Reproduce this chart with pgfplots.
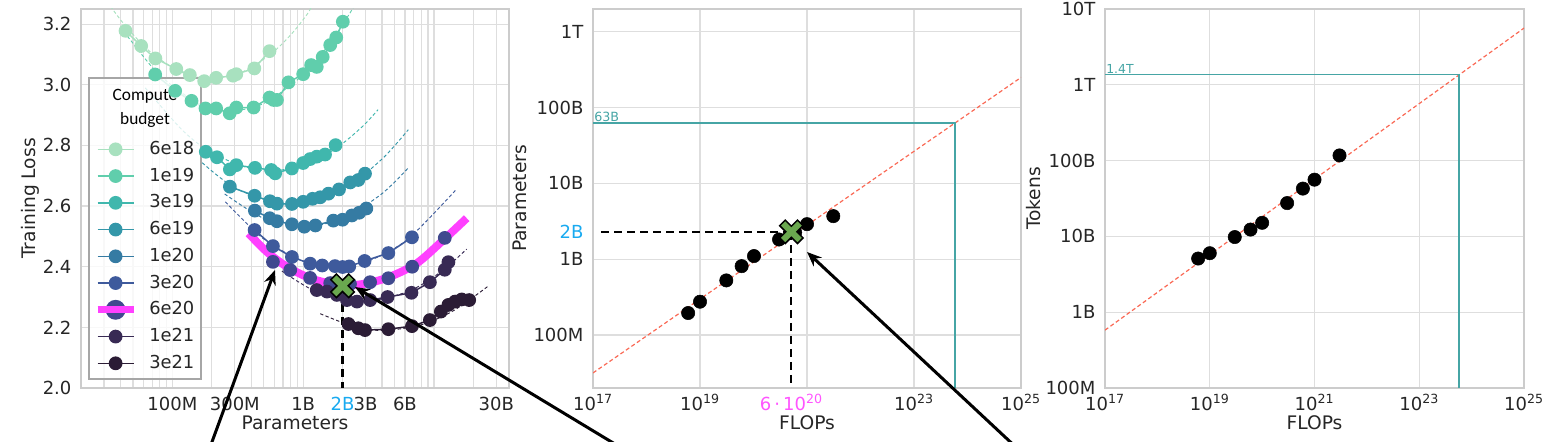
\documentclass[border=0pt]{standalone}
\usepackage{fontspec}
\setmainfont{DejaVu Sans}
\newfontfamily\carlito{Carlito}
\usepackage{pgfplots}
\pgfplotsset{compat=1.18}
\usetikzlibrary{arrows.meta}

\definecolor{cA}{RGB}{168,225,191}
\definecolor{cB}{RGB}{96,206,172}
\definecolor{cC}{RGB}{64,183,173}
\definecolor{cD}{RGB}{52,151,169}
\definecolor{cE}{RGB}{53,123,163}
\definecolor{cF}{RGB}{62,90,156}
\definecolor{cG}{RGB}{64,73,142}
\definecolor{cH}{RGB}{56,42,84}
\definecolor{cI}{RGB}{43,28,53}
\definecolor{mag}{RGB}{255,64,255}
\definecolor{maglab}{RGB}{255,85,255}
\definecolor{cyanlab}{RGB}{25,170,240}
\definecolor{gridc}{RGB}{222,222,222}
\definecolor{spine}{RGB}{204,204,204}
\definecolor{fitred}{RGB}{250,105,85}
\definecolor{tealc}{RGB}{70,165,165}
\definecolor{xgreen}{RGB}{106,168,79}
\definecolor{txt}{RGB}{38,38,38}

\pgfdeclareplotmark{bigX}{%
  \pgfpathmoveto{\pgfqpoint{0pt}{4.2pt}}%
  \pgfpathlineto{\pgfqpoint{4.6pt}{8.8pt}}%
  \pgfpathlineto{\pgfqpoint{8.8pt}{4.6pt}}%
  \pgfpathlineto{\pgfqpoint{4.2pt}{0pt}}%
  \pgfpathlineto{\pgfqpoint{8.8pt}{-4.6pt}}%
  \pgfpathlineto{\pgfqpoint{4.6pt}{-8.8pt}}%
  \pgfpathlineto{\pgfqpoint{0pt}{-4.2pt}}%
  \pgfpathlineto{\pgfqpoint{-4.6pt}{-8.8pt}}%
  \pgfpathlineto{\pgfqpoint{-8.8pt}{-4.6pt}}%
  \pgfpathlineto{\pgfqpoint{-4.2pt}{0pt}}%
  \pgfpathlineto{\pgfqpoint{-8.8pt}{4.6pt}}%
  \pgfpathlineto{\pgfqpoint{-4.6pt}{8.8pt}}%
  \pgfpathclose
  \pgfusepathqfillstroke
}

\pgfplotsset{
  panel/.style={
    scale only axis, height=284.25pt, anchor=south west,
    axis line style={spine, line width=1.2pt},
    major tick length=0pt, minor tick length=0pt,
    grid style={gridc, line width=0.9pt},
    minor grid style={gridc, line width=0.9pt},
    tick label style={font=\fontsize{13.5}{16}\selectfont, text=txt},
    xticklabel style={anchor=base, inner sep=0pt, yshift=-17pt},
    yticklabel style={anchor=east, inner sep=0pt, xshift=-7pt},
    every axis x label/.style={at={(axis description cs:0.5,-0.1108)}, anchor=base, font=\fontsize{14}{16}\selectfont, text=txt},
  },
  ylab/.style={every axis y label/.style={at={(axis description cs:#1,0.5)}, rotate=90, anchor=base, font=\fontsize{14}{16}\selectfont, text=txt}},
  fitline/.style={forget plot, smooth, line width=0.7pt, dash pattern=on 2.5pt off 1.8pt},
  datal/.style={mark=*, mark size=4.6pt, line width=1.1pt},
}

\begin{document}
\begin{tikzpicture}
\path[use as bounding box] (0pt,0pt) rectangle (1172.25pt,331.5pt);

%================ LEFT PANEL =================
\begin{axis}[panel, at={(60.75pt,40.5pt)}, width=321pt,
  xmode=log, xmin=2e7, xmax=3.75e10, ymin=2, ymax=3.25,
  xtick={1e8,3e8,1e9,3e9,6e9,3e10},
  xticklabels={100M,300M,1B,3B,6B,30B},
  extra x ticks={2e9}, extra x tick labels={\textcolor{cyanlab}{2B}},
  extra x tick style={grid=none},
  minor xtick={2e7,3e7,4e7,5e7,6e7,7e7,8e7,9e7,1e8,2e8,3e8,4e8,5e8,6e8,7e8,8e8,9e8,1e9,2e9,3e9,4e9,5e9,6e9,7e9,8e9,9e9,1e10,2e10,3e10},
  xmajorgrids, xminorgrids, ymajorgrids,
  ytick={2.0,2.2,2.4,2.6,2.8,3.0,3.2},
  yticklabels={2.0,2.2,2.4,2.6,2.8,3.0,3.2},
  xlabel={Parameters}, ylabel={Training Loss}, ylab=-0.1075,
  legend style={at={(axis description cs:0.031,0.657)}, anchor=north west, draw=none, fill=none,
    inner sep=0pt, outer sep=0pt, row sep=4.56pt, column sep=7.25pt, font=\fontsize{13.4}{15}\selectfont, text=txt,
    nodes={inner sep=2pt, text height=9.5pt, text depth=2pt, font=\fontsize{13.4}{15}\selectfont, text=txt}},
  legend cell align=left,
  legend image code/.code={\draw[#1, mark repeat=2, mark phase=2] plot coordinates {(0pt,0pt) (13.5pt,0pt) (27pt,0pt)};},
]
% fitted curves
\addplot[fitline, cA] coordinates {(3.36e7,3.259) (4.38e7,3.194) (6.8e7,3.108) (1.15e8,3.043) (1.95e8,3.020) (3.3e8,3.039) (5.6e8,3.100) (8e8,3.164) (1.07e9,3.232) (1.2e9,3.27)};
\addplot[fitline, cB] coordinates {(4.0e7,3.19) (4.61e7,3.156) (7.94e7,3.033) (1.58e8,2.939) (2.82e8,2.915) (5.01e8,2.939) (1.0e9,3.033) (1.58e9,3.134) (2.29e9,3.238) (2.5e9,3.27)};
\addplot[fitline, cC] coordinates {(6.2e7,2.99) (1.15e8,2.857) (1.79e8,2.789) (3.2e8,2.736) (5.6e8,2.715) (1.0e9,2.737) (1.75e9,2.788) (2.8e9,2.860) (3.74e9,2.918)};
\addplot[fitline, cD] coordinates {(1.69e8,2.743) (3.16e8,2.655) (7.94e8,2.607) (2.0e9,2.655) (3.98e9,2.754) (6.37e9,2.852)};
\addplot[fitline, cE] coordinates {(2.51e8,2.640) (5.01e8,2.559) (1.0e9,2.532) (2.0e9,2.559) (3.98e9,2.640) (6.37e9,2.726)};
\addplot[fitline, cF] coordinates {(2.54e8,2.614) (5.01e8,2.491) (1.0e9,2.419) (1.78e9,2.400) (3.16e9,2.419) (6.31e9,2.491) (1.49e10,2.656)};
\addplot[fitline, cH] coordinates {(6.87e8,2.386) (1.26e9,2.318) (2.82e9,2.285) (6.31e9,2.318) (1.12e10,2.382) (1.78e10,2.458)};
\addplot[fitline, cI] coordinates {(1.35e9,2.245) (2.51e9,2.201) (4.17e9,2.190) (7.94e9,2.208) (1.41e10,2.255) (2.6e10,2.336)};
% data
\addplot[datal, cA] coordinates {(4.38e7,3.178) (5.77e7,3.128) (7.41e7,3.087) (1.07e8,3.052) (1.36e8,3.032) (1.75e8,3.012) (2.16e8,3.023) (2.91e8,3.030) (3.08e8,3.035) (4.23e8,3.054) (5.53e8,3.111)};
\addlegendentry{6e18}
\addplot[datal, cB] coordinates {(7.38e7,3.034) (1.05e8,2.980) (1.40e8,2.947) (1.79e8,2.922) (2.16e8,2.922) (2.74e8,2.906) (3.08e8,2.925) (4.18e8,2.925) (5.53e8,2.958) (5.93e8,2.950) (6.30e8,2.950) (7.72e8,3.008) (1.00e9,3.035) (1.15e9,3.065) (1.27e9,3.059) (1.41e9,3.092) (1.61e9,3.131) (1.79e9,3.156) (2.01e9,3.208)};
\addlegendentry{1e19}
\addplot[datal, cC] coordinates {(1.80e8,2.779) (2.19e8,2.761) (2.75e8,2.721) (3.08e8,2.735) (4.28e8,2.726) (5.70e8,2.719) (6.11e8,2.708) (8.20e8,2.724) (1.00e9,2.742) (1.13e9,2.755) (1.27e9,2.763) (1.47e9,2.770) (1.77e9,2.801)};
\addlegendentry{3e19}
\addplot[datal, cD] coordinates {(2.75e8,2.664) (4.25e8,2.634) (5.57e8,2.616) (6.30e8,2.608) (8.20e8,2.607) (1.00e9,2.614) (1.18e9,2.624) (1.35e9,2.629) (1.56e9,2.641) (1.88e9,2.655) (2.29e9,2.678) (2.64e9,2.686) (2.97e9,2.707)};
\addlegendentry{6e19}
\addplot[datal, cE] coordinates {(4.27e8,2.585) (5.55e8,2.560) (6.30e8,2.550) (8.20e8,2.540) (1.02e9,2.532) (1.24e9,2.536) (1.70e9,2.552) (2.00e9,2.555) (2.36e9,2.569) (2.68e9,2.578) (3.04e9,2.592)};
\addlegendentry{1e20}
\addplot[datal, cF] coordinates {(4.25e8,2.521) (5.87e8,2.468) (8.20e8,2.432) (1.13e9,2.410) (1.40e9,2.404) (1.75e9,2.402) (2.00e9,2.399) (2.25e9,2.401) (2.95e9,2.419) (4.48e9,2.445) (6.79e9,2.497)};
\addlegendentry{3e20}
\addplot[datal, cG, forget plot] coordinates {(5.87e8,2.416) (7.96e8,2.389) (1.13e9,2.363) (1.61e9,2.346) (2.28e9,2.343) (3.25e9,2.349) (4.48e9,2.362) (6.82e9,2.400) (1.21e10,2.495)};
\addplot[mag, line width=6pt, smooth,
  legend image code/.code={\fill[cG] (13.5pt,0pt) circle (4.4pt); \draw[mag, line width=5pt] (0pt,0pt) -- (27pt,0pt);}]
  coordinates {(3.82e8,2.510) (5.28e8,2.449) (7.51e8,2.400) (1.13e9,2.362) (1.70e9,2.342) (2.03e9,2.337) (3.06e9,2.345) (4.61e9,2.367) (7.38e9,2.411) (1.18e10,2.488) (1.78e10,2.560)};
\addlegendentry{6e20}
\addplot[datal, cH] coordinates {(1.27e9,2.323) (1.52e9,2.318) (1.81e9,2.307) (2.16e9,2.290) (2.58e9,2.285) (3.25e9,2.290) (4.42e9,2.300) (6.73e9,2.314) (9.31e9,2.349) (1.21e10,2.390) (1.29e10,2.415)};
\addlegendentry{1e21}
\addplot[datal, cI] coordinates {(2.22e9,2.211) (2.64e9,2.197) (2.97e9,2.191) (4.48e9,2.194) (6.79e9,2.204) (9.31e9,2.224) (1.13e10,2.252) (1.29e10,2.274) (1.45e10,2.285) (1.63e10,2.292) (1.86e10,2.290)};
\addlegendentry{3e21}
% optimum
\addplot[forget plot, black, line width=1.6pt, dash pattern=on 6pt off 3.75pt] coordinates {(2e9,2.32) (2e9,2.0)};
\addplot[forget plot, only marks, mark=bigX, mark options={fill=xgreen, draw=black, line width=1.1pt}] coordinates {(2e9,2.337)};
% legend box
\fill[white, fill opacity=0.8] (axis description cs:0.0187,0.0237) rectangle (axis description cs:0.2804,0.818);
\draw[gray!70, line width=1.2pt] (axis description cs:0.0187,0.0237) rectangle (axis description cs:0.2804,0.818);
\node[font=\carlito\fontsize{13}{15}\selectfont, text=black] at (axis description cs:0.1495,0.771) {Compute};
\node[font=\carlito\fontsize{13}{15}\selectfont, text=black] at (axis description cs:0.1495,0.707) {budget};
\end{axis}

%================ MIDDLE PANEL =================
\begin{axis}[panel, at={(444.75pt,40.5pt)}, width=321pt,
  xmode=log, ymode=log, xmin=1e17, xmax=1e25, ymin=2e7, ymax=2e12,
  xtick={1e17,1e19,1e21,1e23,1e25},
  xticklabels={10\textsuperscript{17},10\textsuperscript{19},{},10\textsuperscript{23},10\textsuperscript{25}},
  extra x ticks={5.1e20}, extra x tick labels={\textcolor{maglab}{6\,·\,10\textsuperscript{20}}},
  extra x tick style={grid=none},
  ytick={1e8,1e9,1e10,1e11,1e12},
  yticklabels={100M,1B,10B,100B,1T},
  extra y ticks={2.3e9}, extra y tick labels={\textcolor{cyanlab}{2B}},
  extra y tick style={grid=none},
  xmajorgrids, ymajorgrids,
  xlabel={FLOPs}, ylabel={Parameters}, ylab=-0.1565,
]
\addplot[fitred, line width=0.9pt, dash pattern=on 3pt off 2pt] coordinates {(1e17,3.16e7) (1e25,2.5e11)};
\addplot[tealc, line width=1.3pt] coordinates {(1e17,6.3e10) (5.76e23,6.3e10) (5.76e23,2e7)};
\node[anchor=south west, text=tealc, font=\fontsize{9.5}{10}\selectfont, inner sep=0.8pt] at (axis cs:1e17,6.3e10) {63B};
\addplot[black, line width=1.6pt, dash pattern=on 6pt off 3.75pt] coordinates {(1.41e17,2.3e9) (5.1e20,2.3e9)};
\addplot[black, line width=1.6pt, dash pattern=on 6pt off 3.75pt] coordinates {(5.1e20,2.3e9) (5.1e20,2e7)};
\addplot[only marks, mark=*, mark size=5pt, black] coordinates {(6.0e18,1.95e8) (1e19,2.75e8) (3.1e19,5.25e8) (6.0e19,8.1e8) (1.02e20,1.10e9) (3.0e20,1.82e9) (6.0e20,2.25e9) (1e21,2.9e9) (3.1e21,3.7e9)};
\addplot[only marks, mark=bigX, mark options={fill=xgreen, draw=black, line width=1.1pt}] coordinates {(5.1e20,2.3e9)};
\end{axis}

%================ RIGHT PANEL =================
\begin{axis}[panel, at={(828.75pt,40.5pt)}, width=314.25pt,
  xmode=log, ymode=log, xmin=1e17, xmax=1e25, ymin=1e8, ymax=1e13,
  xtick={1e17,1e19,1e21,1e23,1e25},
  xticklabels={10\textsuperscript{17},10\textsuperscript{19},10\textsuperscript{21},10\textsuperscript{23},10\textsuperscript{25}},
  ytick={1e8,1e9,1e10,1e11,1e12,1e13},
  yticklabels={100M,1B,10B,100B,1T,10T},
  xmajorgrids, ymajorgrids,
  xlabel={FLOPs}, ylabel={Tokens}, ylab=-0.155,
]
\addplot[fitred, line width=0.9pt, dash pattern=on 3pt off 2pt] coordinates {(1e17,5.8e8) (1e25,5.6e12)};
\addplot[tealc, line width=1.3pt] coordinates {(1e17,1.37e12) (5.76e23,1.37e12) (5.76e23,1e8)};
\node[anchor=south west, text=tealc, font=\fontsize{9.3}{10}\selectfont, inner sep=0.8pt] at (axis cs:1e17,1.37e12) {1.4T};
\addplot[only marks, mark=*, mark size=5pt, black] coordinates {(6.0e18,5.1e9) (1e19,6.0e9) (3.0e19,9.8e9) (6.0e19,1.23e10) (1e20,1.51e10) (3e20,2.75e10) (6e20,4.27e10) (1e21,5.6e10) (3e21,1.17e11)};
\end{axis}

%================ ARROWS =================
\draw[black, line width=2.25pt, -{Stealth[length=11pt, width=9pt]}] (157.5pt,-4pt) -- (206.25pt,129pt);
\draw[black, line width=2.25pt, -{Stealth[length=11pt, width=9pt]}] (462pt,-2pt) -- (266.25pt,116.25pt);
\draw[black, line width=2.25pt, -{Stealth[length=11pt, width=9pt]}] (761pt,-3pt) -- (605.25pt,142.5pt);
\end{tikzpicture}
\end{document}
